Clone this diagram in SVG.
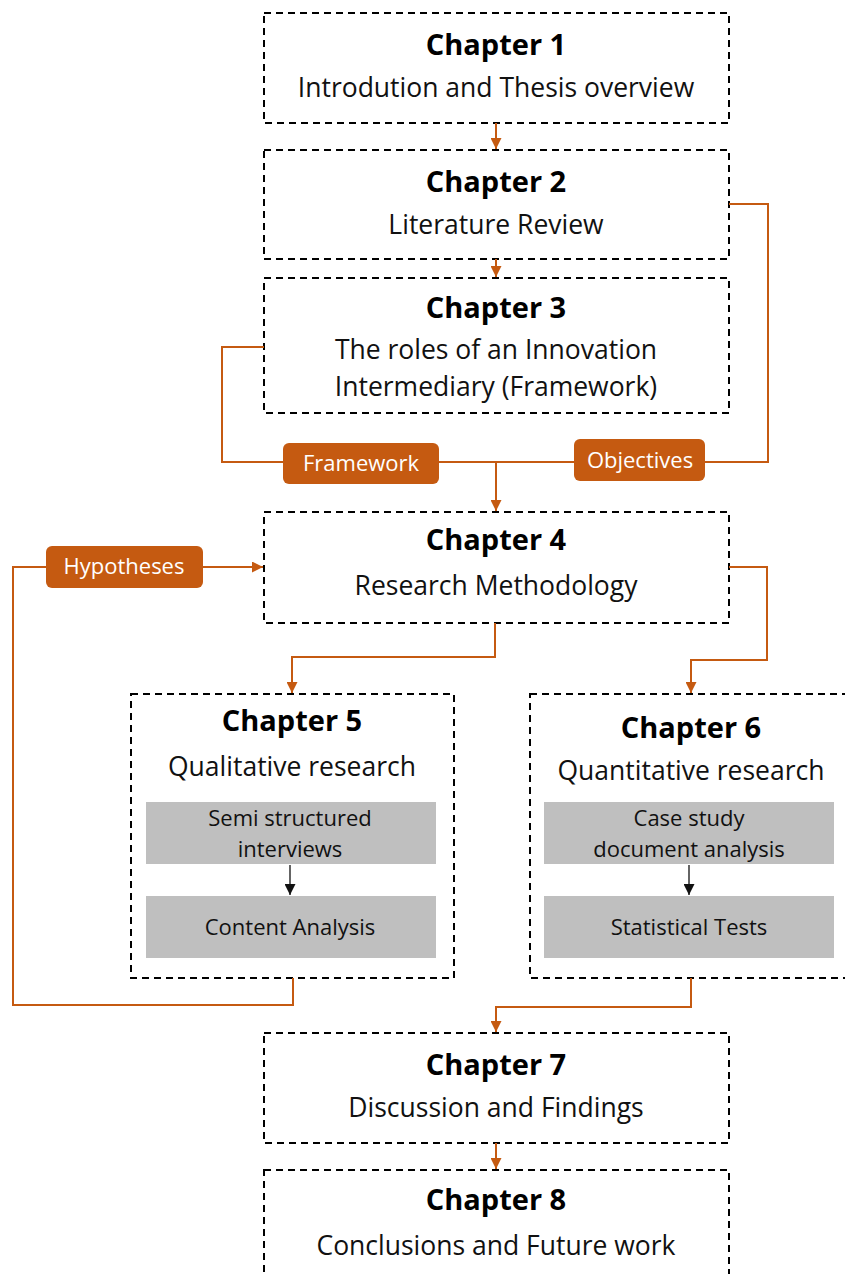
<svg xmlns="http://www.w3.org/2000/svg" width="845" height="1274" viewBox="0 0 845 1274">
  <defs>
    <marker id="arrO" viewBox="0 0 10 10" refX="10" refY="5" markerWidth="11" markerHeight="11" orient="auto" markerUnits="userSpaceOnUse">
      <path d="M0,0 L10,5 L0,10 z" fill="#C55A11"/>
    </marker>
    <marker id="arrK" viewBox="0 0 10 10" refX="10" refY="5" markerWidth="11" markerHeight="11" orient="auto" markerUnits="userSpaceOnUse">
      <path d="M0,0 L10,5 L0,10 z" fill="#111"/>
    </marker>
    <style>
      .box { fill: #fff; stroke: #000; stroke-width: 2; stroke-dasharray: 7 5; }
      .sub { fill: #BFBFBF; }
      .title { font-family: "Open Sans", "Liberation Sans", sans-serif; font-weight: bold; font-size: 29px; fill: #000; text-anchor: middle; }
      .txt { font-family: "Open Sans", "Liberation Sans", sans-serif; font-size: 26.5px; fill: #111; text-anchor: middle; }
      .stxt { font-family: "Open Sans", "Liberation Sans", sans-serif; font-size: 22px; fill: #111; text-anchor: middle; }
      .lbl { fill: #C55A11; }
      .ltxt { font-family: "Open Sans", "Liberation Sans", sans-serif; font-size: 22px; fill: #fff; text-anchor: middle; }
      .con { fill: none; stroke: #C55A11; stroke-width: 2; }
      .conk { fill: none; stroke: #111; stroke-width: 1.3; }
    </style>
  </defs>

  <g id="ch1">
    <rect class="box" x="264" y="13" width="465" height="110"/>
    <text class="title" x="496" y="55">Chapter 1</text>
    <text class="txt" x="496" y="97">Introdution and Thesis overview</text>
  </g>

  <g id="ch2">
    <rect class="box" x="264" y="150" width="465" height="109"/>
    <text class="title" x="496" y="192">Chapter 2</text>
    <text class="txt" x="496" y="234">Literature Review</text>
  </g>

  <g id="ch3">
    <rect class="box" x="264" y="278" width="465" height="135"/>
    <text class="title" x="496" y="318">Chapter 3</text>
    <text class="txt" x="496" y="359">The roles of an Innovation</text>
    <text class="txt" x="496" y="396">Intermediary (Framework)</text>
  </g>

  <g id="ch4">
    <rect class="box" x="264" y="512" width="465" height="111"/>
    <text class="title" x="496" y="550">Chapter 4</text>
    <text class="txt" x="496" y="595">Research Methodology</text>
  </g>

  <g id="ch5">
    <rect class="box" x="131" y="694" width="323" height="284"/>
    <text class="title" x="292" y="731">Chapter 5</text>
    <text class="txt" x="292" y="776">Qualitative research</text>
    <rect class="sub" x="146" y="802" width="290" height="62"/>
    <text class="stxt" x="290" y="826">Semi structured</text>
    <text class="stxt" x="290" y="857">interviews</text>
    <rect class="sub" x="146" y="896" width="290" height="62"/>
    <text class="stxt" x="290" y="935">Content Analysis</text>
  </g>

  <g id="ch6">
    <rect class="box" x="530" y="694" width="330" height="284"/>
    <text class="title" x="691" y="738">Chapter 6</text>
    <text class="txt" x="691" y="780">Quantitative research</text>
    <rect class="sub" x="544" y="802" width="290" height="62"/>
    <text class="stxt" x="689" y="826">Case study</text>
    <text class="stxt" x="689" y="857">document analysis</text>
    <rect class="sub" x="544" y="896" width="290" height="62"/>
    <text class="stxt" x="689" y="935">Statistical Tests</text>
  </g>

  <g id="ch7">
    <rect class="box" x="264" y="1033" width="465" height="110"/>
    <text class="title" x="496" y="1075">Chapter 7</text>
    <text class="txt" x="496" y="1117">Discussion and Findings</text>
  </g>

  <g id="ch8">
    <rect class="box" x="264" y="1170" width="465" height="120"/>
    <text class="title" x="496" y="1210">Chapter 8</text>
    <text class="txt" x="496" y="1255">Conclusions and Future work</text>
  </g>

  <!-- connectors, drawn above the boxes so the inner arrows stay visible -->
  <g id="connectors">
    <path class="con" d="M496,123 V149" marker-end="url(#arrO)"/>
    <path class="con" d="M496,259 V277" marker-end="url(#arrO)"/>
    <path class="con" d="M264,347 H222 V462 H768 V204 H729"/>
    <path class="con" d="M496,462 V511" marker-end="url(#arrO)"/>
    <path class="con" d="M293,978 V1005 H13 V567 H263" marker-end="url(#arrO)"/>
    <path class="con" d="M495,623 V657 H292 V693" marker-end="url(#arrO)"/>
    <path class="con" d="M729,567 H767 V660 H691 V693" marker-end="url(#arrO)"/>
    <path class="con" d="M691,978 V1007 H496 V1032" marker-end="url(#arrO)"/>
    <path class="con" d="M496,1143 V1169" marker-end="url(#arrO)"/>
    <path class="conk" d="M290,865 V895" marker-end="url(#arrK)"/>
    <path class="conk" d="M689,865 V895" marker-end="url(#arrK)"/>
  </g>

  <!-- edge labels sit on top of their connector lines -->
  <g id="label-framework">
    <rect class="lbl" x="283" y="443" width="156" height="41" rx="6"/>
    <text class="ltxt" x="361" y="471">Framework</text>
  </g>

  <g id="label-objectives">
    <rect class="lbl" x="574" y="439" width="131" height="42" rx="6"/>
    <text class="ltxt" x="640" y="468">Objectives</text>
  </g>

  <g id="label-hypotheses">
    <rect class="lbl" x="46" y="546" width="157" height="42" rx="6"/>
    <text class="ltxt" x="124" y="574">Hypotheses</text>
  </g>
</svg>
